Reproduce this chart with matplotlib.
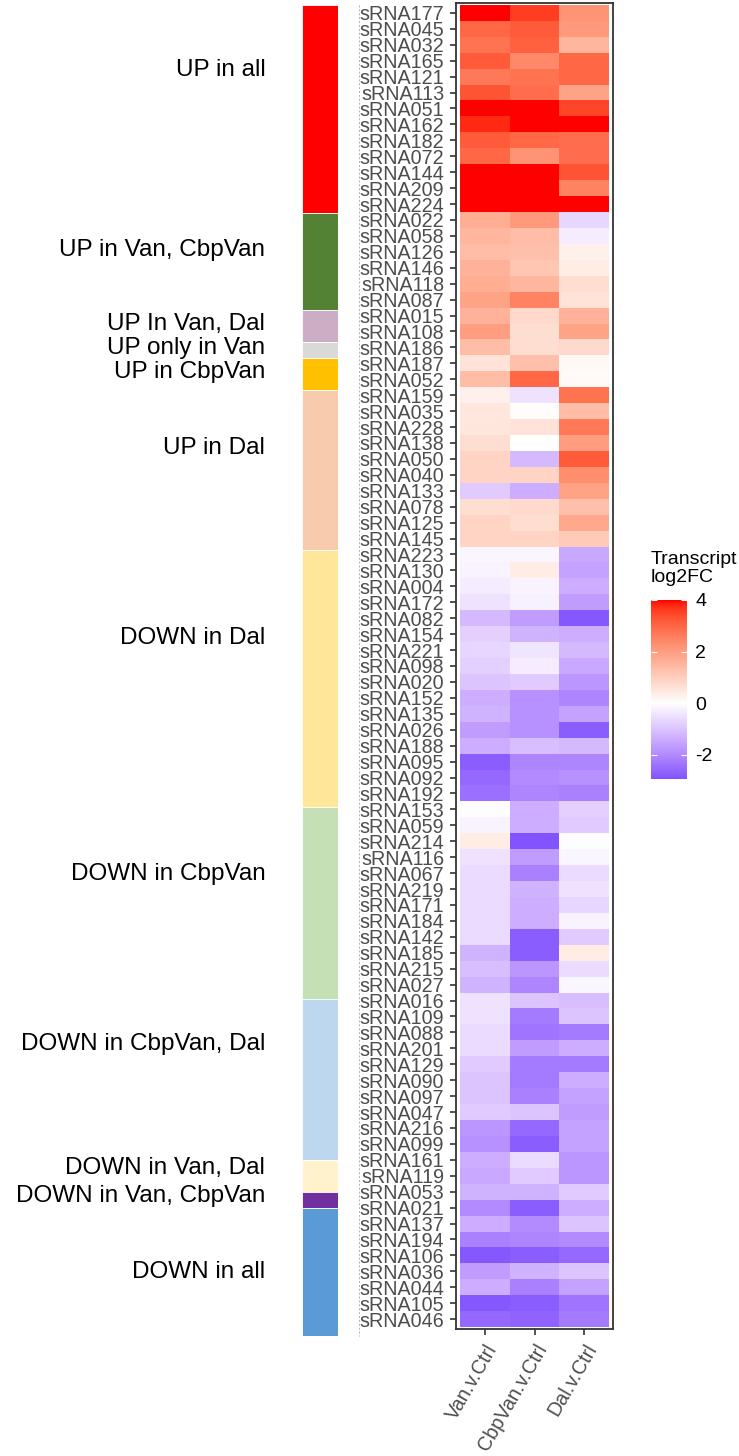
import numpy as np
import matplotlib
matplotlib.use("Agg")
import matplotlib.pyplot as plt
from matplotlib.colors import ListedColormap, Normalize, to_rgb
from matplotlib.lines import Line2D
import matplotlib.transforms as mtransforms

plt.rcParams['font.family'] = ['Liberation Sans', 'DejaVu Sans']
plt.rcParams['axes.unicode_minus'] = False

# groups (side bar), top to bottom
groups = ["UP in all", "UP in Van, CbpVan", "UP In Van, Dal", "UP only in Van",
          "UP in CbpVan", "UP in Dal", "DOWN in Dal", "DOWN in CbpVan",
          "DOWN in CbpVan, Dal", "DOWN in Van, Dal", "DOWN in Van, CbpVan", "DOWN in all"]
group_n = [13, 6, 2, 1, 2, 10, 16, 12, 10, 2, 1, 8]
group_col = ["#FF0000", "#548235", "#CBAEC6", "#D9D9D9", "#FFC000", "#F8CBAD",
             "#FFE699", "#C5E0B4", "#BDD7EE", "#FFF2CC", "#7030A0", "#5B9BD5"]

srna = ["sRNA177", "sRNA045", "sRNA032", "sRNA165", "sRNA121", "sRNA113", "sRNA051",
        "sRNA162", "sRNA182", "sRNA072", "sRNA144", "sRNA209", "sRNA224",
        "sRNA022", "sRNA058", "sRNA126", "sRNA146", "sRNA118", "sRNA087",
        "sRNA015", "sRNA108",
        "sRNA186",
        "sRNA187", "sRNA052",
        "sRNA159", "sRNA035", "sRNA228", "sRNA138", "sRNA050", "sRNA040", "sRNA133",
        "sRNA078", "sRNA125", "sRNA145",
        "sRNA223", "sRNA130", "sRNA004", "sRNA172", "sRNA082", "sRNA154", "sRNA221",
        "sRNA098", "sRNA020", "sRNA152", "sRNA135", "sRNA026", "sRNA188", "sRNA095",
        "sRNA092", "sRNA192",
        "sRNA153", "sRNA059", "sRNA214", "sRNA116", "sRNA067", "sRNA219", "sRNA171",
        "sRNA184", "sRNA142", "sRNA185", "sRNA215", "sRNA027",
        "sRNA016", "sRNA109", "sRNA088", "sRNA201", "sRNA129", "sRNA090", "sRNA097",
        "sRNA047", "sRNA216", "sRNA099",
        "sRNA161", "sRNA119",
        "sRNA053",
        "sRNA021", "sRNA137", "sRNA194", "sRNA106", "sRNA036", "sRNA044", "sRNA105",
        "sRNA046"]

contrasts = ["Van.v.Ctrl", "CbpVan.v.Ctrl", "Dal.v.Ctrl"]

van = [4.0, 3.0, 2.8, 3.2, 2.7, 3.3, 4.0, 3.8, 3.2, 3.0, 4.0, 4.0, 4.0,
       1.7, 1.5, 1.4, 1.6, 1.7, 1.9,
       1.6, 2.0,
       1.4,
       0.6, 1.4,
       0.3, 0.5, 0.5, 0.7, 0.9, 0.9, -0.9, 0.7, 0.9, 0.9,
       -0.15, -0.2, -0.3, -0.5, -1.2, -0.8, -0.7, -0.8, -1.0, -1.4, -1.3, -1.7, -1.4, -2.8, -2.6, -2.5,
       -0.05, -0.2, 0.4, -0.5, -0.6, -0.6, -0.6, -0.6, -0.6, -1.3, -1.1, -1.3,
       -0.5, -0.5, -0.6, -0.6, -0.9, -1.0, -1.0, -0.9, -1.8, -1.9,
       -1.4, -1.5,
       -1.3,
       -2.0, -1.4, -2.2, -2.9, -1.7, -1.4, -2.9, -2.6]

cbpvan = [3.6, 3.2, 3.1, 2.4, 2.8, 2.9, 4.0, 4.0, 3.0, 2.2, 4.0, 4.0, 4.0,
          2.1, 1.4, 1.3, 1.2, 1.5, 2.5,
          0.8, 0.7,
          0.7,
          1.3, 3.0,
          -0.5, 0.05, 0.6, 0.0, -1.2, 0.9, -1.4, 0.8, 0.7, 0.9,
          -0.15, 0.4, -0.2, -0.25, -1.7, -1.3, -0.45, -0.3, -0.9, -1.9, -1.9, -1.9, -1.1, -2.1, -2.0, -2.1,
          -1.4, -1.4, -2.95, -1.7, -2.2, -1.3, -1.4, -1.4, -2.8, -2.8, -1.8, -2.1,
          -1.0, -2.3, -2.4, -1.7, -2.3, -2.3, -2.2, -1.0, -2.6, -2.8,
          -0.6, -0.9,
          -1.3,
          -2.8, -2.0, -2.1, -2.8, -1.3, -2.2, -2.8, -2.7]

dal = [2.2, 2.1, 1.5, 3.0, 3.0, 1.9, 3.5, 4.0, 2.9, 2.9, 3.3, 2.5, 4.0,
       -0.7, -0.3, 0.3, 0.4, 0.7, 0.6,
       1.6, 1.9,
       0.8,
       0.15, 0.1,
       2.8, 1.4, 2.7, 2.0, 3.2, 2.3, 1.9, 1.3, 1.8, 1.1,
       -1.5, -1.6, -1.4, -1.7, -2.9, -1.4, -1.2, -1.5, -1.8, -2.1, -1.6, -2.8, -1.2, -2.1, -1.9, -2.2,
       -0.8, -0.9, -0.05, -0.15, -0.6, -0.5, -0.7, -0.2, -0.9, 0.4, -0.6, -0.15,
       -1.1, -1.0, -2.3, -1.4, -2.3, -1.4, -1.6, -1.7, -1.6, -1.6,
       -1.8, -1.8,
       -0.9,
       -1.4, -1.0, -2.0, -2.6, -1.0, -1.6, -2.4, -2.3]

# where the group names sit along the side bar (row units)
label_pos = [4.05, 15.3, 19.9, 21.4, 22.9, 27.6, 39.5, 54.2, 64.8, 72.5, 74.3, 79.0]


# colour ramp like ggplot's gradient2 (interpolated in CIELAB)
M = np.array([[0.4124, 0.3576, 0.1805], [0.2126, 0.7152, 0.0722], [0.0193, 0.1192, 0.9505]])
WHITE = np.array([0.95047, 1.0, 1.08883])


def rgb2lab(c):
    c = np.asarray(c, float)
    lin = np.where(c <= 0.04045, c / 12.92, ((c + 0.055) / 1.055) ** 2.4)
    xyz = M @ lin / WHITE
    f = np.where(xyz > 0.008856, np.cbrt(xyz), 7.787 * xyz + 16 / 116)
    return np.array([116 * f[1] - 16, 500 * (f[0] - f[1]), 200 * (f[1] - f[2])])


def lab2rgb(lab):
    L, a, b = lab
    fy = (L + 16) / 116
    f = np.array([fy + a / 500, fy, fy - b / 200])
    xyz = np.where(f ** 3 > 0.008856, f ** 3, (f - 16 / 116) / 7.787) * WHITE
    lin = np.clip(np.linalg.inv(M) @ xyz, 0, 1)
    c = np.where(lin <= 0.0031308, 12.92 * lin, 1.055 * lin ** (1 / 2.4) - 0.055)
    return np.clip(c, 0, 1)


lo_lab, mid_lab, hi_lab = rgb2lab(to_rgb("blue")), rgb2lab(to_rgb("white")), rgb2lab(to_rgb("red"))
ramp = []
for t in np.linspace(0, 1, 512):
    if t < 0.5:
        ramp.append(lab2rgb(lo_lab + (mid_lab - lo_lab) * (t / 0.5)))
    else:
        ramp.append(lab2rgb(mid_lab + (hi_lab - mid_lab) * ((t - 0.5) / 0.5)))
cmap = ListedColormap(ramp)

vals = np.array([van, cbpvan, dal]).T
vabs = np.abs(vals).max()
norm = Normalize(-vabs, vabs)
vlo, vhi = vals.min(), vals.max()

W, H = 739, 1456
fig = plt.figure(figsize=(W / 100, H / 100), dpi=100)


def box(l, t, r, b):
    return [l / W, 1 - b / H, (r - l) / W, (b - t) / H]


# heatmap
ax = fig.add_axes(box(456, 3, 613, 1329))
nr = len(srna)
ax.pcolormesh(np.arange(4), np.arange(nr + 1), vals, cmap=cmap, norm=norm)
ax.set_xlim(-0.08, 3.08)
ax.set_ylim(nr + 0.12, -0.12)
ax.set_yticks(np.arange(nr) + 0.5)
ax.set_yticklabels(srna)
ax.set_xticks(np.arange(3) + 0.5)
ax.set_xticklabels(contrasts, rotation=60, ha='right', va='top', rotation_mode='anchor')
ax.tick_params(axis='both', length=4, width=1.2, color='#333333', labelsize=14.2,
               labelcolor='#4D4D4D', pad=4.5)
for sp in ax.spines.values():
    sp.set_color('#333333')
    sp.set_linewidth(1.3)

# side bar with group colours
axs = fig.add_axes(box(302, 5, 338, 1336))
starts = np.concatenate([[0], np.cumsum(group_n)[:-1]])
axs.bar(0.5, group_n, bottom=starts, width=1, color=group_col, edgecolor='white', linewidth=0.6)
axs.set_xlim(0, 1)
axs.set_ylim(sum(group_n), 0)
axs.axis('off')
tr = mtransforms.blended_transform_factory(axs.transAxes, axs.transData)
for g, y in zip(groups, label_pos):
    axs.text(-1.02, y, g, transform=tr, ha='right', va='center', fontsize=17.5, color='black')

fig.add_artist(Line2D([359 / W, 359 / W], [1 - 5 / H, 1 - 1336 / H], color='#B0B0B0',
                      lw=0.7, ls=(0, (2, 2))))

# colour bar
cax = fig.add_axes(box(651, 600, 687, 779))
grad = np.linspace(vlo, vhi, 300)[:, None]
cax.imshow(grad, cmap=cmap, norm=norm, extent=[0, 1, vlo, vhi], origin='lower', aspect='auto')
cax.set_xlim(0, 1)
cax.set_ylim(vlo, vhi)
cax.set_xticks([])
cax.set_yticks([-2, 0, 2, 4])
cax.yaxis.tick_right()
cax.tick_params(axis='y', direction='in', left=True, right=True, length=4, width=0.8,
                color='white', labelsize=14, labelcolor='black', pad=6)
for sp in cax.spines.values():
    sp.set_visible(False)
fig.text(651 / W, 1 - 551 / H, "Transcript\nlog2FC", ha='left', va='top', fontsize=14,
         linespacing=1.05)

fig.savefig("out.png", dpi=100)
